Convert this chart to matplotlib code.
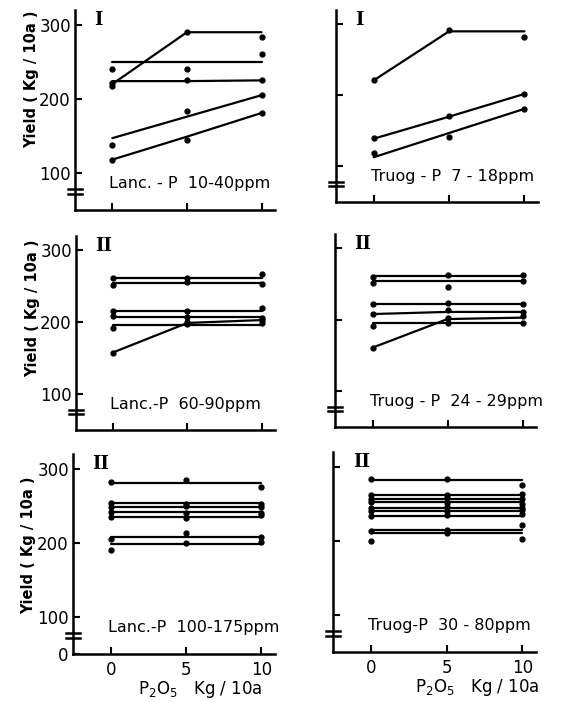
import numpy as np
import matplotlib
matplotlib.use('Agg')
import matplotlib.pyplot as plt

# P2O5 doses (Kg/10a)
doses = [0, 5, 10]

# panel I, Lanc.-P 10-40ppm : fitted lines and observed points
p1_lines = [[220, 290, 290], [250, 250, 250], [224, 224, 225], [147, 176, 205], [118, 149, 181]]
p1_points = [[218, 290, 283], [240, 240, 261], [221, 225, 225], [138, 183, 205], [117, 144, 181]]

# panel I, Truog-P 7-18ppm
p2_lines = [[221, 290, 290], [139, 170, 202], [113, 147, 181]]
p2_points = [[221, 292, 282], [140, 171, 202], [119, 141, 181]]

# panel II, Lanc.-P 60-90ppm
p3_lines = [[262, 262, 262], [255, 255, 255], [216, 216, 216], [207, 207, 207], [196, 196, 196], [158, 199, 203]]
p3_points = [[262, 262, 267], [252, 256, 253], [216, 216, 220], [209, 207, 206], [192, 198, 199], [157, 200, 203]]

# panel II, Truog-P 24-29ppm
p4_lines = [[261, 261, 261], [254, 254, 254], [222, 222, 222], [208, 211, 211], [195, 195, 195], [161, 201, 203]]
p4_points = [[260, 263, 262], [251, 246, 254], [222, 223, 222], [208, 214, 211], [191, 196, 195], [160, 202, 205]]

# panel II, Lanc.-P 100-175ppm
p5_lines = [[281, 281, 281], [254, 254, 254], [248, 248, 248], [242, 242, 242], [235, 235, 235], [208, 208, 208], [199, 199, 199]]
p5_points = [[282, 285, 275], [254, 252, 253], [248, 250, 249], [242, 240, 240], [235, 233, 237], [205, 213, 208], [190, 200, 201]]

# panel II, Truog-P 30-80ppm
p6_lines = [[282, 282, 282], [262, 262, 262], [257, 257, 257], [252, 252, 252], [245, 245, 245], [240, 240, 240], [234, 234, 234], [215, 215, 215], [210, 210, 210]]
p6_points = [[283, 283, 275], [262, 262, 263], [257, 258, 257], [252, 251, 250], [245, 246, 245], [240, 240, 242], [234, 235, 236], [213, 215, 221], [200, 210, 203]]

group_labels = ['I', 'I', 'II', 'II', 'II', 'II']
soil_labels = ['Lanc. - P  10-40ppm', 'Truog - P  7 - 18ppm',
               'Lanc.-P  60-90ppm', 'Truog - P  24 - 29ppm',
               'Lanc.-P  100-175ppm', 'Truog-P  30 - 80ppm']
yticks = [100, 200, 300]
xticks = [0, 5, 10]

panels = [(p1_lines, p1_points), (p2_lines, p2_points), (p3_lines, p3_points),
          (p4_lines, p4_points), (p5_lines, p5_points), (p6_lines, p6_points)]

# axes positions in pixels (left, top, right, bottom) on a 564x702 canvas
W, H = 564, 702
boxes = [(75, 10, 275, 210), (336, 10, 538, 202),
         (76, 236, 275, 430), (335, 234, 536, 427),
         (73, 454, 275, 654), (333, 452, 536, 652)]
# vertical centre of the y label, in axes fraction (it sits high in the scan)
ylabel_pos = [0.655, None, 0.63, None, 0.545, None]
xlabel_pos = [None, None, None, None, 0.63, 0.71]

fig = plt.figure(figsize=(W / 100, H / 100), dpi=100)

for i, ((lines, pts), (l, t, r, b)) in enumerate(zip(panels, boxes)):
    ax = fig.add_axes([l / W, 1 - b / H, (r - l) / W, (b - t) / H])
    for yl, yp in zip(lines, pts):
        ax.plot(doses, yl, color='black', lw=1.6, solid_capstyle='round')
        ax.plot(doses, yp, 'o', color='black', ms=3.5, ls='none')

    ax.set_xlim(-2.5, 10.9)
    ax.set_ylim(50, 320)
    for s in ['top', 'right']:
        ax.spines[s].set_visible(False)
    for s in ['left', 'bottom']:
        ax.spines[s].set_linewidth(1.8)

    ax.tick_params(direction='in', length=5, width=1.5, labelsize=12, pad=3)
    ax.set_xticks(xticks)
    ax.set_yticks(yticks)

    col = i % 2
    row = i // 2
    if col == 0:
        ax.set_ylabel('Yield ( Kg / 10a )', fontsize=10.5, fontweight='bold')
        ax.yaxis.set_label_coords(-0.18, ylabel_pos[i])
        if row == 2:
            ax.set_yticks([50] + yticks)
            ax.set_yticklabels(['0'] + [str(v) for v in yticks])
    else:
        ax.set_yticklabels([])
    if row == 2:
        ax.set_xticklabels([str(v) for v in xticks])
        ax.tick_params(axis='x', pad=5)
        ax.set_xlabel(r'P$_2$O$_5$   Kg / 10a', fontsize=12, va='center')
        ax.xaxis.set_label_coords(xlabel_pos[i], -0.18)
    else:
        ax.set_xticklabels([])

    # axis break marks on the y axis
    for yb in [72, 78]:
        ax.plot([-2.95, -2.05], [yb, yb], color='black', lw=1.8, clip_on=False)

    ax.text(-1.2, 306, group_labels[i], fontsize=13, family='DejaVu Serif',
            fontweight='bold', ha='left', va='center')
    ax.text(-0.2, 86, soil_labels[i], fontsize=11.5, ha='left', va='center')

fig.savefig('out.png', dpi=100)
